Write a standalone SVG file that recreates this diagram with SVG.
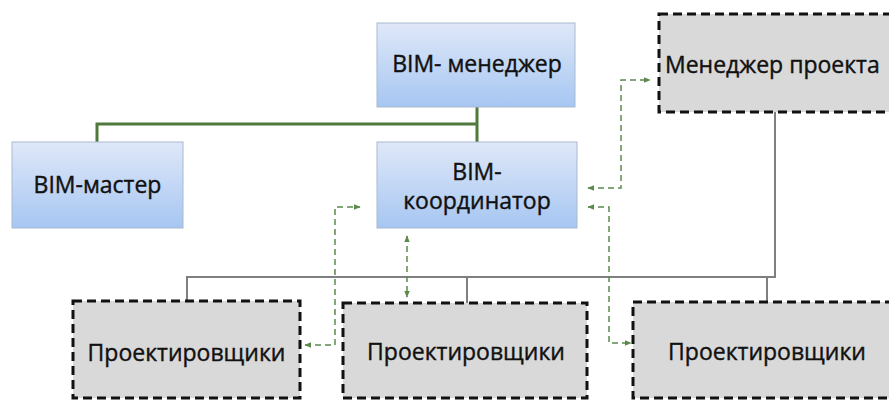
<svg xmlns="http://www.w3.org/2000/svg" width="889" height="400" viewBox="0 0 889 400">
<defs>
<linearGradient id="blueGrad" x1="0" y1="0" x2="0" y2="1">
<stop offset="0" stop-color="#dfe8f8"/>
<stop offset="1" stop-color="#a6c6f2"/>
</linearGradient>
<marker id="ah" viewBox="0 0 10 10" refX="9" refY="5" markerWidth="7" markerHeight="7" markerUnits="userSpaceOnUse" orient="auto-start-reverse">
<path d="M0,1 L10,5 L0,9 z" fill="#5b8a4c"/>
</marker>
<style>
.blue{fill:url(#blueGrad);stroke:#a9b9cf;stroke-width:1}
.gray{fill:#d9d9d9;stroke:#111;stroke-width:3;stroke-dasharray:9,5}
.lbl{font-family:"Open Sans","Noto Sans",sans-serif;font-size:23px;fill:#111;stroke:#111;stroke-width:0.4;text-anchor:middle}
.solid{fill:none;stroke:#4f7a3b;stroke-width:3}
.grayl{fill:none;stroke:#7f7f7f;stroke-width:2}
.dash{fill:none;stroke:#5b8a4c;stroke-width:1.5;stroke-dasharray:6,4}
</style>
</defs>
<rect width="889" height="400" fill="#ffffff"/>
<g id="connectors">
<path class="solid" d="M477,107 V142 M97,142 V124 H477"/>
<path class="grayl" d="M775,112 V277 H187 V301 M467,277 V303 M767,277 V302"/>
<path class="dash" d="M588,188 H621 V80 H650" marker-start="url(#ah)" marker-end="url(#ah)"/>
<path class="dash" d="M588,207 H609 V343 H631" marker-start="url(#ah)" marker-end="url(#ah)"/>
<path class="dash" d="M305,345 H335 V207 H360" marker-start="url(#ah)" marker-end="url(#ah)"/>
<path class="dash" d="M407,236 V297" marker-start="url(#ah)" marker-end="url(#ah)"/>
</g>
<g id="bim-manager">
<rect class="blue" x="377" y="23" width="198" height="84"/>
<text class="lbl" x="477" y="72">BIM- менеджер</text>
</g>
<g id="bim-master">
<rect class="blue" x="12" y="142" width="171" height="86"/>
<text class="lbl" x="97.5" y="193">BIM-мастер</text>
</g>
<g id="bim-coordinator">
<rect class="blue" x="377" y="142" width="200" height="86"/>
<text class="lbl" x="477" y="180"><tspan x="477" y="180">BIM-</tspan><tspan x="477" y="209">координатор</tspan></text>
</g>
<g id="project-manager">
<rect class="gray" x="659" y="14" width="232" height="98"/>
<text class="lbl" x="665" y="73" style="text-anchor:start">Менеджер  проекта</text>
</g>
<g id="designers-left">
<rect class="gray" x="73" y="301" width="227" height="97"/>
<text class="lbl" x="186.5" y="361">Проектировщики</text>
</g>
<g id="designers-middle">
<rect class="gray" x="343" y="303" width="244" height="95"/>
<text class="lbl" x="466" y="360">Проектировщики</text>
</g>
<g id="designers-right">
<rect class="gray" x="633" y="302" width="268" height="96"/>
<text class="lbl" x="767" y="360">Проектировщики</text>
</g>
</svg>
